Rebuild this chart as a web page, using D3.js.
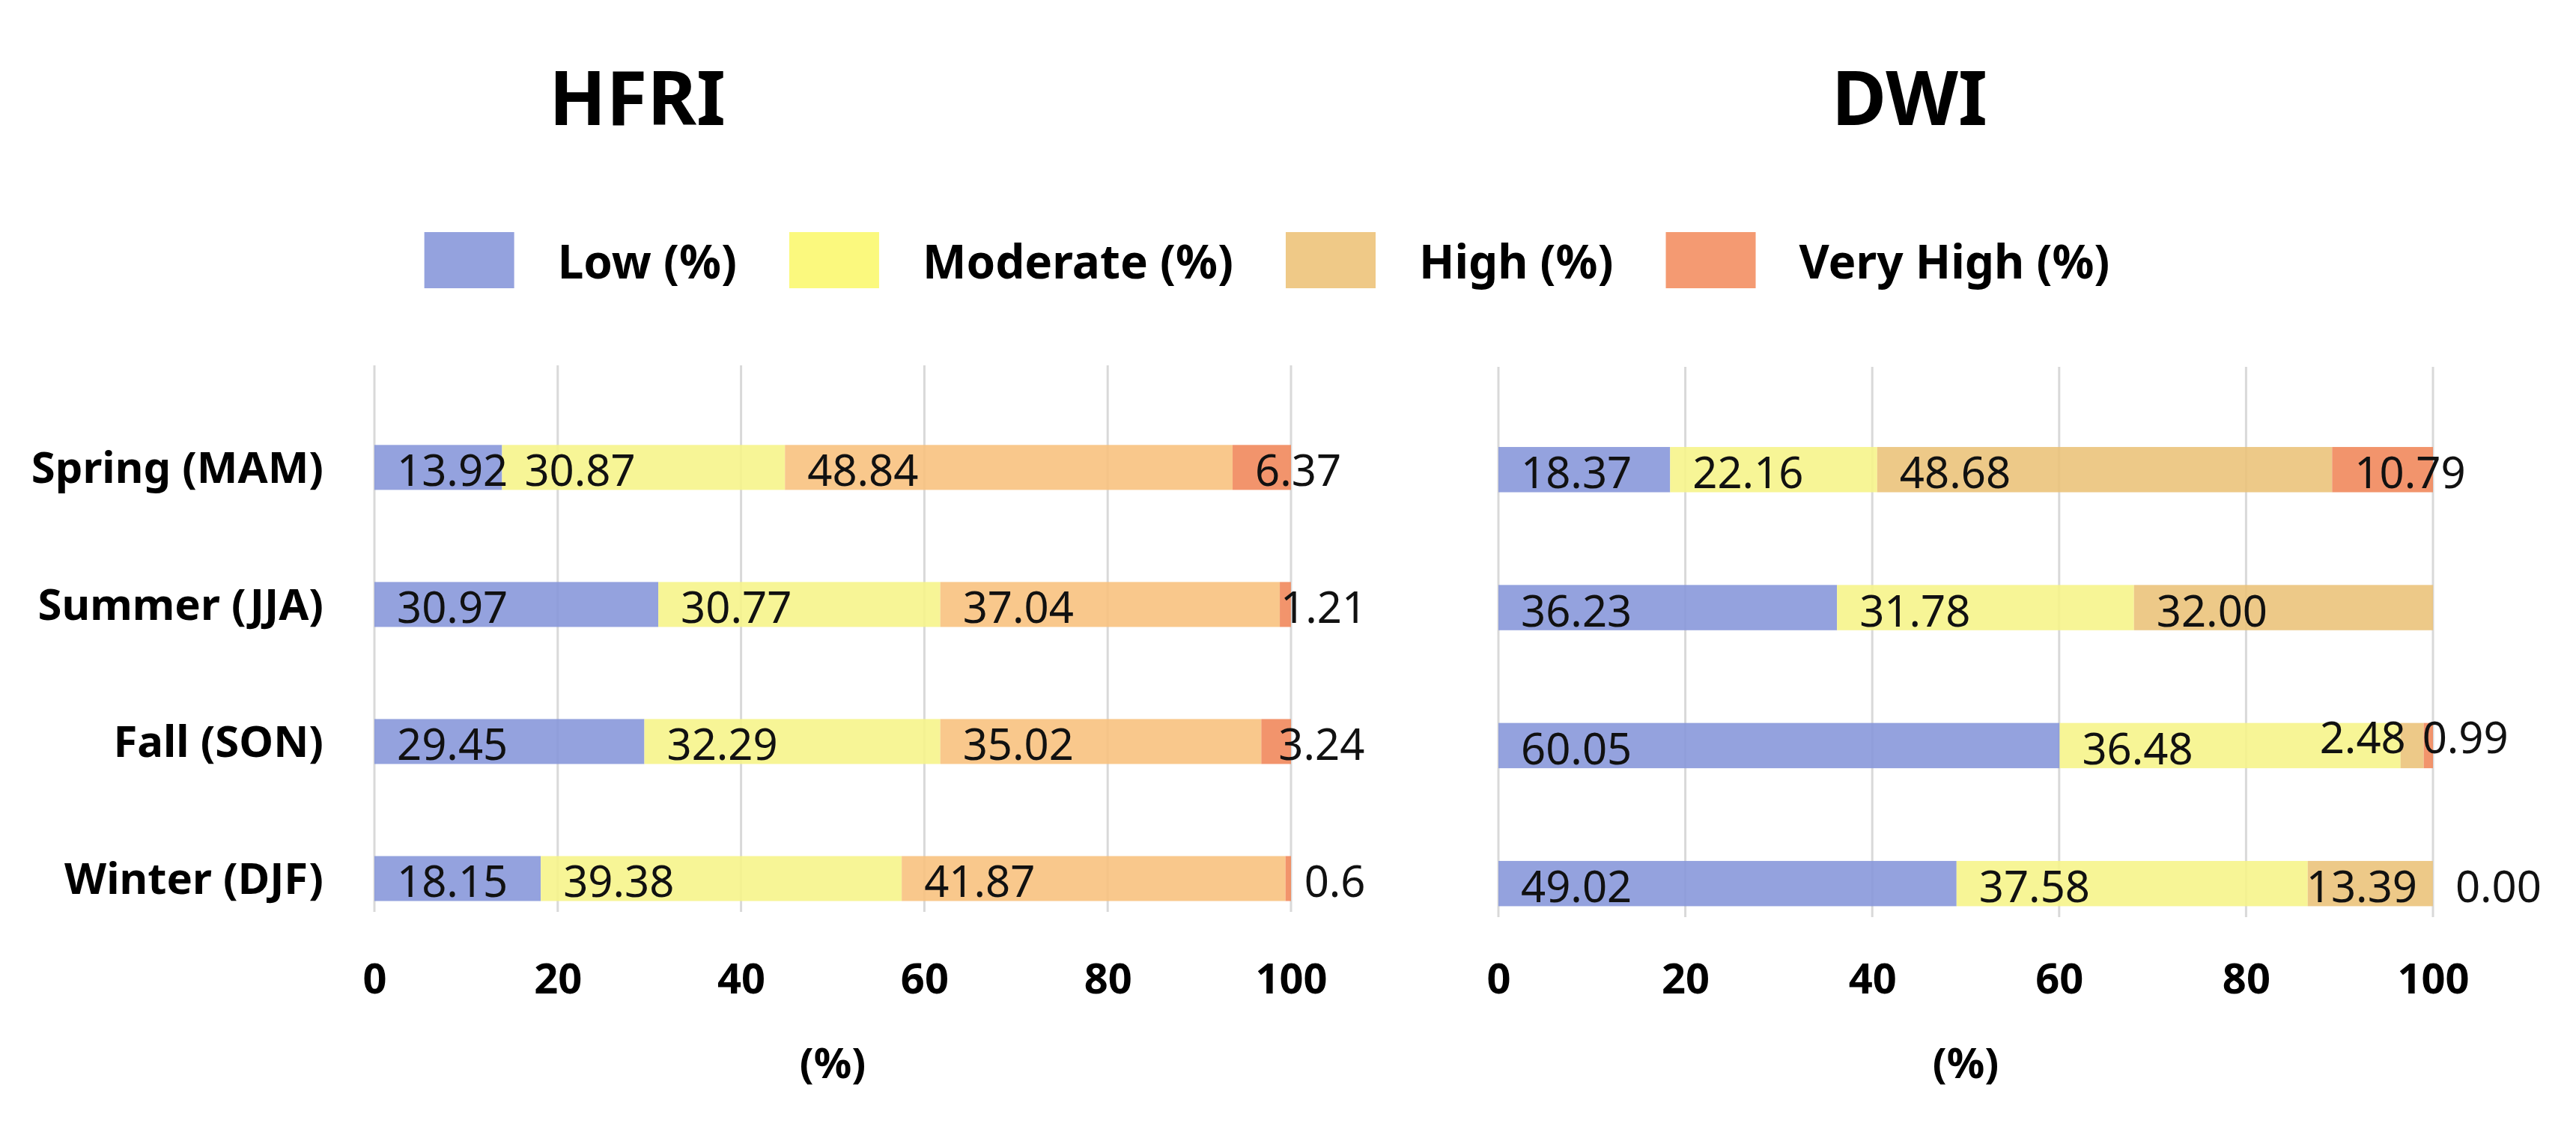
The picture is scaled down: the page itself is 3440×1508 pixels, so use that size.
<!DOCTYPE html>
<html>
<head>
<meta charset="utf-8">
<script src="https://cdn.jsdelivr.net/npm/d3@7"></script>
<style>
  html, body { margin: 0; padding: 0; background: #fff; }
  svg { display: block; font-family: "Noto Sans", "Open Sans", sans-serif; }
</style>
</head>
<body>
<script>
const seasons = ["Spring (MAM)", "Summer (JJA)", "Fall (SON)", "Winter (DJF)"];
const levels = ["Low (%)", "Moderate (%)", "High (%)", "Very High (%)"];
const ticks = [0, 20, 40, 60, 80, 100];

// HFRI values per level, in season order
const hfriLow = [13.92, 30.97, 29.45, 18.15];
const hfriModerate = [30.87, 30.77, 32.29, 39.38];
const hfriHigh = [48.84, 37.04, 35.02, 41.87];
const hfriVeryHigh = [6.37, 1.21, 3.24, 0.6];

// DWI values per level
const dwiLow = [18.37, 36.23, 60.05, 49.02];
const dwiModerate = [22.16, 31.78, 36.48, 37.58];
const dwiHigh = [48.68, 32.00, 2.48, 13.39];
const dwiVeryHigh = [10.79, null, 0.99, 0.00];

const legendColors = ["#94a2de", "#fbf97e", "#efc987", "#f49a72"];
const hfriColors = ["#8595d9", "#f6f488", "#f8c07c", "#f08558"];
const dwiColors = ["#8595d9", "#f6f488", "#ebc277", "#f08558"];

// hand tweaks for labels that were moved off tiny segments [panel, season, level, dx, dy]
const labelNudge = [
  ["HFRI", 1, 3, -29, 0],
  ["HFRI", 2, 3, -7, 0],
  ["HFRI", 3, 3, -5, 0],
  ["DWI", 2, 2, -138, -15],
  ["DWI", 2, 3, -32, -15],
  ["DWI", 3, 2, -32, 0]
];

const width = 3440, height = 1508;
const svg = d3.select("body").append("svg")
    .attr("width", width)
    .attr("height", height)
    .attr("viewBox", [0, 0, width, height]);

function panel(opt) {
  const x = d3.scaleLinear().domain([0, 100]).range(opt.xRange);
  const y = d3.scaleBand().domain(seasons).range(opt.yRange)
      .paddingInner(0.672).paddingOuter(0.33).align(0.88);

  const rows = seasons.map((s, i) => opt.series.map(arr => arr[i]));
  const stack = d3.stack().keys(d3.range(4)).value((d, k) => d[k] || 0)(rows);

  const g = svg.append("g");

  // title
  g.append("text")
      .attr("x", opt.titleX)
      .attr("y", 167)
      .attr("text-anchor", "middle")
      .attr("font-size", 100)
      .attr("font-weight", "bold")
      .text(opt.name);

  // grid
  g.append("g")
    .selectAll("line")
    .data(ticks)
    .join("line")
      .attr("x1", d => x(d)).attr("x2", d => x(d))
      .attr("y1", opt.yRange[0]).attr("y2", opt.yRange[1])
      .attr("stroke", "#d9d9d9")
      .attr("stroke-width", 3);

  // bars
  g.append("g")
    .selectAll("g")
    .data(stack)
    .join("g")
      .attr("fill", (d, k) => opt.colors[k])
      .attr("fill-opacity", 0.88)
    .selectAll("rect")
    .data(d => d)
    .join("rect")
      .attr("x", d => x(d[0]))
      .attr("y", (d, i) => y(seasons[i]))
      .attr("width", d => x(d[1]) - x(d[0]))
      .attr("height", y.bandwidth());

  // value labels
  const labels = [];
  stack.forEach((layer, k) => layer.forEach((d, i) => {
    const v = opt.series[k][i];
    if (v === null) return;
    const n = labelNudge.find(a => a[0] === opt.name && a[1] === i && a[2] === k);
    labels.push({
      x: x(d[0]) + 30 + (n ? n[3] : 0),
      y: y(seasons[i]) + y.bandwidth() / 2 + 25 + (n ? n[4] : 0),
      text: opt.format(v)
    });
  }));
  g.append("g")
    .selectAll("text")
    .data(labels)
    .join("text")
      .attr("x", d => d.x)
      .attr("y", d => d.y)
      .attr("font-size", 58)
      .attr("fill", "#111")
      .text(d => d.text);

  // x axis
  const xAxis = g.append("g")
      .attr("transform", `translate(0,${1327})`)
      .call(d3.axisBottom(x).tickValues(ticks).tickSize(0).tickPadding(0));
  xAxis.select(".domain").remove();
  xAxis.selectAll("text")
      .attr("dy", 0)
      .attr("font-size", 56)
      .attr("font-weight", "bold")
      .attr("font-family", "Noto Sans, sans-serif")
      .attr("fill", "#000");

  g.append("text")
      .attr("x", (opt.xRange[0] + opt.xRange[1]) / 2)
      .attr("y", 1440)
      .attr("text-anchor", "middle")
      .attr("font-size", 56)
      .attr("font-weight", "bold")
      .text("(%)");

  if (opt.yAxis) {
    const yAxis = g.append("g")
        .attr("transform", `translate(${opt.xRange[0] - 68},0)`)
        .call(d3.axisLeft(y).tickSize(0).tickPadding(0));
    yAxis.select(".domain").remove();
    yAxis.selectAll("text")
        .attr("dy", "0.36em")
        .attr("font-size", 58)
        .attr("font-weight", "bold")
        .attr("font-family", "Noto Sans, sans-serif")
        .attr("fill", "#000");
  }
}

panel({
  name: "HFRI",
  titleX: 851,
  xRange: [500, 1724],
  yRange: [488, 1218],
  series: [hfriLow, hfriModerate, hfriHigh, hfriVeryHigh],
  colors: hfriColors,
  format: v => String(v),
  yAxis: true
});

panel({
  name: "DWI",
  titleX: 2550,
  xRange: [2001, 3249],
  yRange: [490, 1225],
  series: [dwiLow, dwiModerate, dwiHigh, dwiVeryHigh],
  colors: dwiColors,
  format: v => v.toFixed(2),
  yAxis: false
});

// legend, flowed left to right and centred
const legend = svg.append("g");
const items = legend.selectAll("g")
  .data(levels)
  .join("g");
items.append("rect")
    .attr("width", 120)
    .attr("height", 75)
    .attr("y", 310)
    .attr("fill", (d, i) => legendColors[i]);
items.append("text")
    .attr("x", 178)
    .attr("y", 372)
    .attr("font-size", 62)
    .attr("font-weight", "bold")
    .text(d => d);
let cx = 0;
items.each(function() {
  d3.select(this).attr("transform", `translate(${cx},0)`);
  cx += 178 + this.querySelector("text").getComputedTextLength() + 70;
});
const total = cx - 70;
legend.attr("transform", `translate(${1692 - total / 2},0)`);
</script>
</body>
</html>
